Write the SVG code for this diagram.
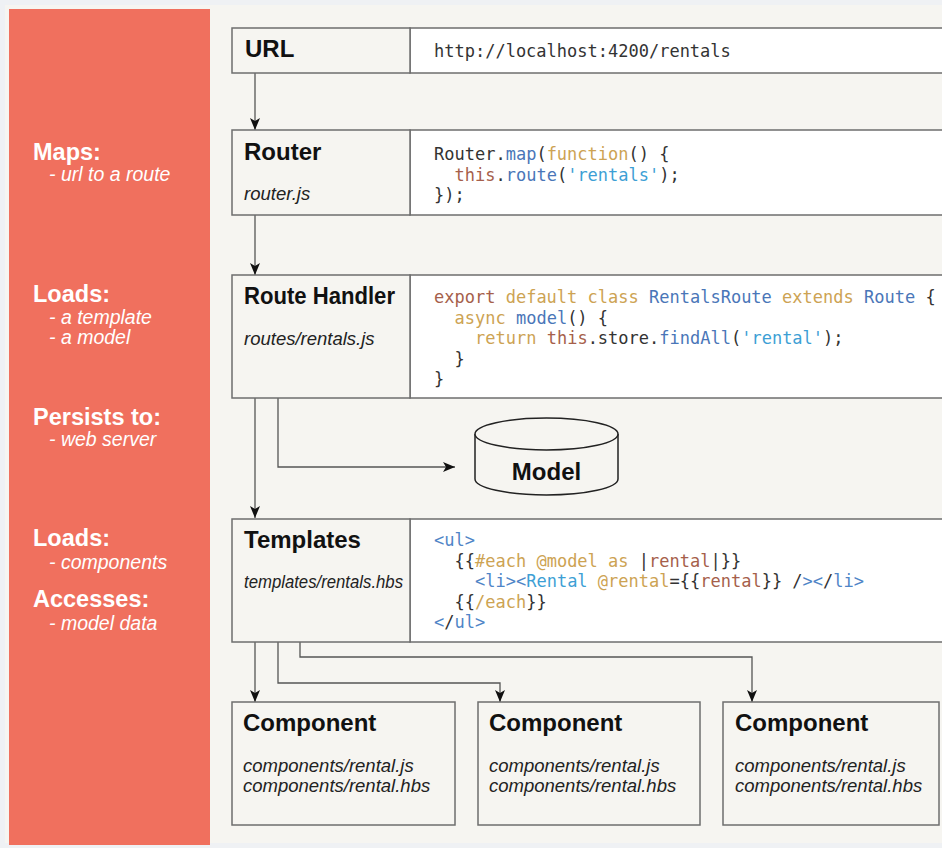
<svg xmlns="http://www.w3.org/2000/svg" width="942" height="848" viewBox="0 0 942 848">
  <style>
    .panel { fill: #f6f5f1; stroke: #6e6e6e; stroke-width: 1.5; }
    .code-bg { fill: #ffffff; stroke: #6e6e6e; stroke-width: 1.5; }
    .title { font-family: "Liberation Sans", Arial, sans-serif; font-weight: bold; font-size: 24px; fill: #111; }
    .file { font-family: "Liberation Sans", Arial, sans-serif; font-style: italic; font-size: 18.5px; fill: #222; }
    .side-h { font-family: "Liberation Sans", Arial, sans-serif; font-weight: bold; font-size: 23.5px; fill: #ffffff; }
    .side-s { font-family: "Liberation Sans", Arial, sans-serif; font-style: italic; font-size: 19.5px; fill: #ffffff; }
    .code { font-family: "DejaVu Sans Mono", "Liberation Mono", monospace; font-size: 17px; fill: #333; }
    .kw { fill: #cda353; }
    .fn { fill: #4a76b8; }
    .th { fill: #a65f4b; }
    .str { fill: #3d9fd5; }
    .tag { fill: #4f85c7; }
    .conn { fill: none; stroke: #555; stroke-width: 1.3; marker-end: url(#arrow); }
    .db { fill: #f6f5f1; stroke: #222; stroke-width: 1.5; }
  </style>
  <defs>
    <marker id="arrow" viewBox="0 0 12 10" refX="12" refY="5" markerWidth="12" markerHeight="10" markerUnits="userSpaceOnUse" orient="auto">
      <path d="M0,0 L12,5 L0,10 L3,5 z" fill="#111"/>
    </marker>
  </defs>

  <!-- page background -->
  <rect x="0" y="0" width="942" height="848" fill="#eff1f4"/>
  <rect x="5" y="5" width="937" height="838" fill="#f6f5f1"/>

  <!-- side legend -->
  <g id="legend">
    <rect x="9" y="9" width="201" height="836" fill="#f0705e"/>
    <text class="side-h" x="33" y="160">Maps:</text>
    <text class="side-s" x="49" y="181">- url to a route</text>
    <text class="side-h" x="33" y="302">Loads:</text>
    <text class="side-s" x="49" y="324">- a template</text>
    <text class="side-s" x="49" y="344">- a model</text>
    <text class="side-h" x="33" y="425">Persists to:</text>
    <text class="side-s" x="49" y="446">- web server</text>
    <text class="side-h" x="33" y="546">Loads:</text>
    <text class="side-s" x="49" y="569">- components</text>
    <text class="side-h" x="33" y="607">Accesses:</text>
    <text class="side-s" x="49" y="630">- model data</text>
  </g>

  <!-- connectors -->
  <g id="connectors">
    <path class="conn" d="M255,73 V130"/>
    <path class="conn" d="M255,215 V275"/>
    <path class="conn" d="M255,398 V518"/>
    <path class="conn" d="M278,398 V467 H455"/>
    <path class="conn" d="M255,642 V702"/>
    <path class="conn" d="M278,642 V683 H500 V702"/>
    <path class="conn" d="M300,642 V657 H752 V702"/>
  </g>

  <g id="url">
    <rect class="code-bg" x="410" y="28" width="545" height="45"/>
    <rect class="panel" x="232" y="28" width="178" height="45"/>
    <text class="title" x="245" y="57">URL</text>
    <text class="code" x="434" y="57">http://localhost:4200/rentals</text>
  </g>

  <g id="router">
    <rect class="code-bg" x="410" y="130" width="545" height="85"/>
    <rect class="panel" x="232" y="130" width="178" height="85"/>
    <text class="title" x="244" y="160">Router</text>
    <text class="file" x="244" y="200">router.js</text>
    <text class="code" x="434" y="160">Router.<tspan class="fn">map</tspan>(<tspan class="kw">function</tspan>() {</text>
    <text class="code" x="454.5" y="180.5"><tspan class="th">this</tspan>.<tspan class="fn">route</tspan>(<tspan class="str">'rentals'</tspan>);</text>
    <text class="code" x="434" y="201">});</text>
  </g>

  <g id="route-handler">
    <rect class="code-bg" x="410" y="275" width="545" height="123"/>
    <rect class="panel" x="232" y="275" width="178" height="123"/>
    <text class="title" x="244" y="304" textLength="151" lengthAdjust="spacingAndGlyphs">Route Handler</text>
    <text class="file" x="244" y="345">routes/rentals.js</text>
    <text class="code" x="434" y="303"><tspan class="th">export</tspan> <tspan class="kw">default</tspan> <tspan class="kw">class</tspan> <tspan class="fn">RentalsRoute</tspan> <tspan class="kw">extends</tspan> <tspan class="fn">Route</tspan> {</text>
    <text class="code" x="454.5" y="323.5"><tspan class="kw">async</tspan> <tspan class="fn">model</tspan>() {</text>
    <text class="code" x="475" y="344"><tspan class="kw">return</tspan> <tspan class="th">this</tspan>.store.<tspan class="fn">findAll</tspan>(<tspan class="str">'rental'</tspan>);</text>
    <text class="code" x="454.5" y="364.5">}</text>
    <text class="code" x="434" y="385">}</text>
  </g>

  <g id="model">
    <path class="db" d="M475,434 A71.5,16 0 0,1 618,434 V479 A71.5,16 0 0,1 475,479 Z"/>
    <path class="db" d="M475,434 A71.5,16 0 0,0 618,434"/>
    <text class="title" x="546.5" y="480" text-anchor="middle">Model</text>
  </g>

  <g id="templates">
    <rect class="code-bg" x="410" y="519" width="545" height="123"/>
    <rect class="panel" x="232" y="519" width="178" height="123"/>
    <text class="title" x="244" y="548">Templates</text>
    <text class="file" x="244" y="588" textLength="159" lengthAdjust="spacingAndGlyphs">templates/rentals.hbs</text>
    <text class="code" x="434" y="546"><tspan class="tag">&lt;ul&gt;</tspan></text>
    <text class="code" x="454.5" y="566.5">{{<tspan class="kw">#each</tspan> <tspan class="kw">@model</tspan> <tspan class="kw">as</tspan> |<tspan class="th">rental</tspan>|}}</text>
    <text class="code" x="475" y="587"><tspan class="tag">&lt;li&gt;&lt;</tspan><tspan class="str">Rental</tspan> <tspan class="kw">@rental</tspan>={{<tspan class="th">rental</tspan>}} /<tspan class="tag">&gt;&lt;</tspan>/<tspan class="tag">li&gt;</tspan></text>
    <text class="code" x="454.5" y="607.5">{{<tspan class="kw">/each</tspan>}}</text>
    <text class="code" x="434" y="628"><tspan class="tag">&lt;</tspan>/<tspan class="tag">ul&gt;</tspan></text>
  </g>

  <g id="component-1">
    <rect class="panel" x="232" y="702" width="223" height="123"/>
    <text class="title" x="243" y="731">Component</text>
    <text class="file" x="243" y="772">components/rental.js</text>
    <text class="file" x="243" y="792">components/rental.hbs</text>
  </g>

  <g id="component-2">
    <rect class="panel" x="478" y="702" width="222" height="123"/>
    <text class="title" x="489" y="731">Component</text>
    <text class="file" x="489" y="772">components/rental.js</text>
    <text class="file" x="489" y="792">components/rental.hbs</text>
  </g>

  <g id="component-3">
    <rect class="panel" x="723" y="702" width="216" height="123"/>
    <text class="title" x="735" y="731">Component</text>
    <text class="file" x="735" y="772">components/rental.js</text>
    <text class="file" x="735" y="792">components/rental.hbs</text>
  </g>
</svg>
